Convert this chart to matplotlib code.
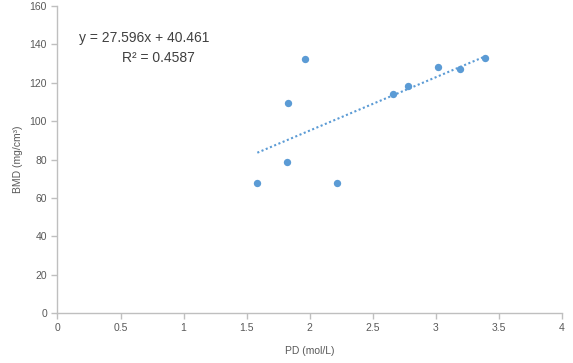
import numpy as np
import matplotlib
matplotlib.use("Agg")
import matplotlib.pyplot as plt

pd_vals = [1.584, 1.822, 1.830, 1.965, 2.219, 2.663, 2.782, 3.020, 3.194, 3.392]
bmd_vals = [67.6, 78.5, 109.3, 132.2, 67.6, 114.1, 118.1, 128.0, 127.0, 132.9]
x_ticks = [0, 0.5, 1, 1.5, 2, 2.5, 3, 3.5, 4]
x_tick_labels = ["0", "0.5", "1", "1.5", "2", "2.5", "3", "3.5", "4"]
y_ticks = [0, 20, 40, 60, 80, 100, 120, 140, 160]

plt.rcParams['font.family'] = ['Liberation Sans', 'DejaVu Sans']
fig = plt.figure(figsize=(5.73, 3.63), dpi=100)
ax = fig.add_axes([0.1003, 0.1377, 0.8807, 0.8458])

blue = "#5B9BD5"
grey = "#BFBFBF"
txt = "#595959"

ax.scatter(pd_vals, bmd_vals, s=28, color=blue, zorder=3, linewidths=0)
slope, intercept = np.polyfit(pd_vals, bmd_vals, 1)
xs = np.array([min(pd_vals), max(pd_vals)])
ax.plot(xs, slope * xs + intercept, linestyle=(0, (1, 1.2)), color=blue, linewidth=1.5, zorder=2)

ax.set_xlim(0, 4)
ax.set_ylim(0, 160)
ax.set_xticks(x_ticks)
ax.set_xticklabels(x_tick_labels)
ax.set_yticks(y_ticks)
for s in ["top", "right"]:
    ax.spines[s].set_visible(False)
for s in ["left", "bottom"]:
    ax.spines[s].set_color(grey)
    ax.spines[s].set_linewidth(1)
ax.tick_params(axis="both", colors=grey, labelcolor=txt, labelsize=7.5, length=4, width=1, direction="out")

ax.set_xlabel("PD (mol/L)", color=txt, fontsize=7.5, labelpad=9)
ax.set_ylabel("BMD (mg/cm³)", color=txt, fontsize=7.5, labelpad=5)

fig.text(144 / 573, 1 - 38 / 363, "y = 27.596x + 40.461", fontsize=10, color="#404040", ha="center", va="center")
fig.text(158 / 573, 1 - 58 / 363, "R² = 0.4587", fontsize=10, color="#404040", ha="center", va="center")

fig.savefig("out.png", dpi=100, facecolor="white")
